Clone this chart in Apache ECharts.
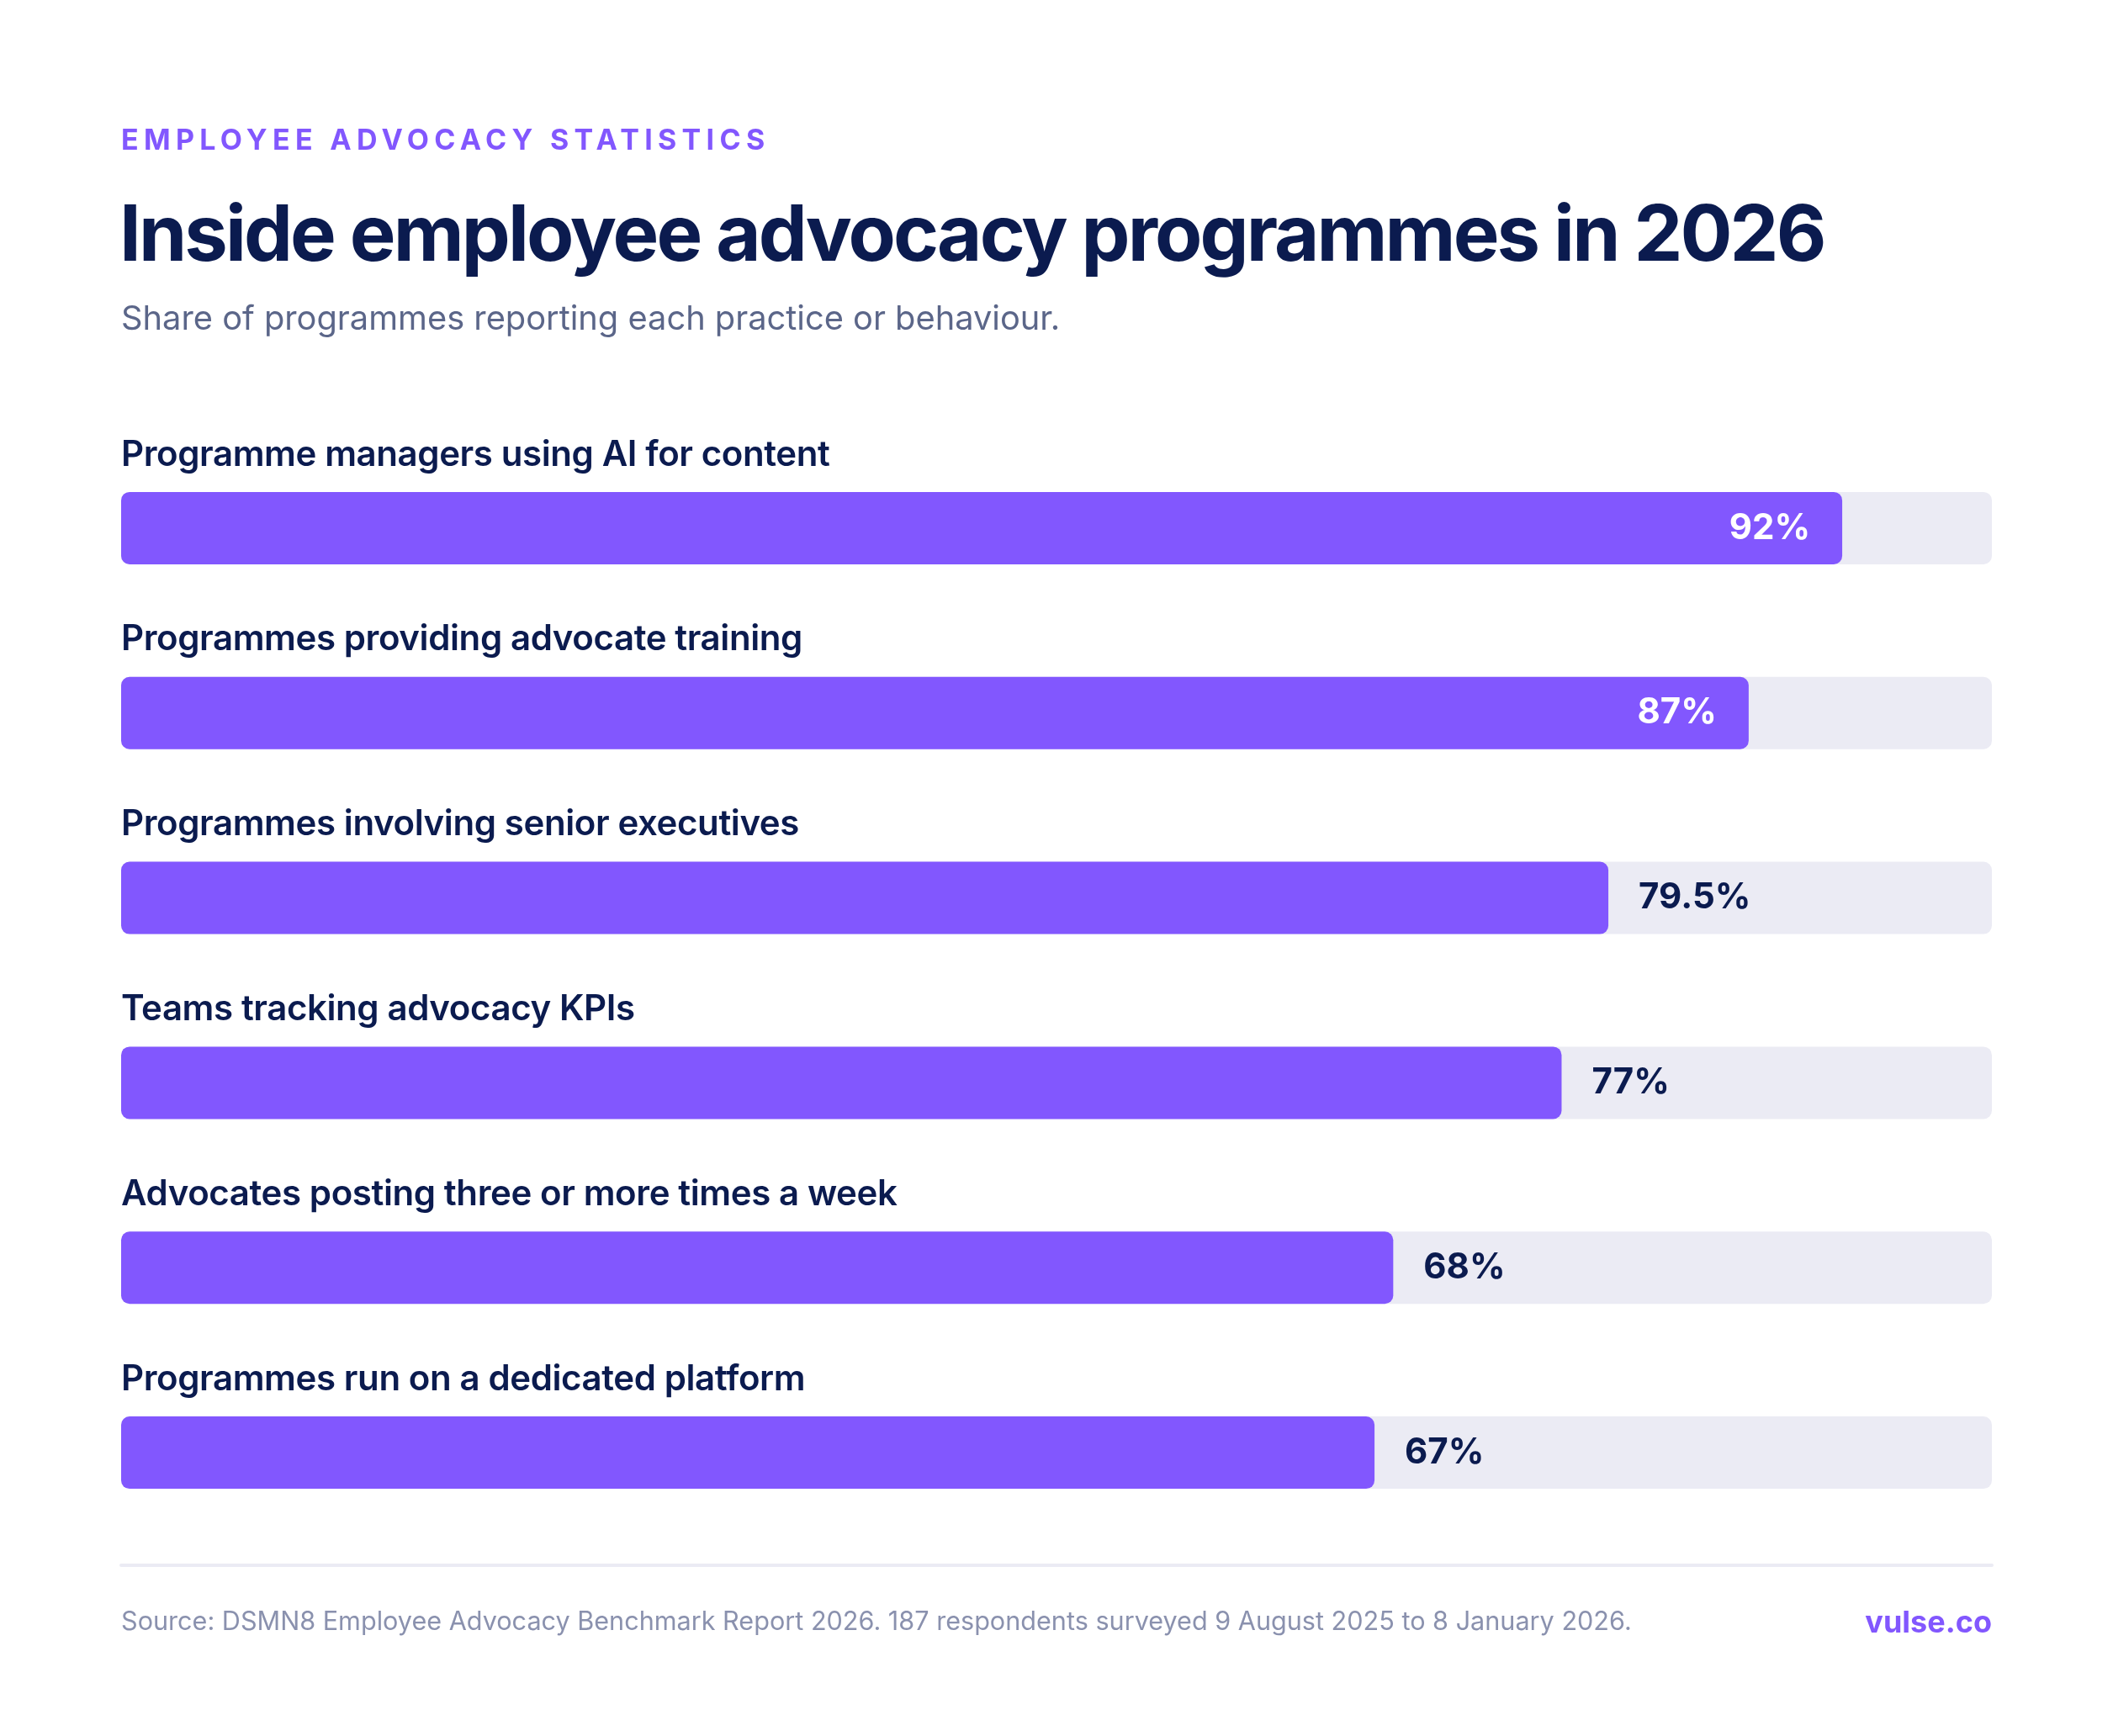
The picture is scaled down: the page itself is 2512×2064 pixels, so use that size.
<!DOCTYPE html>
<html>
<head>
<meta charset="utf-8">
<script src="https://cdn.jsdelivr.net/npm/echarts@6/dist/echarts.min.js"></script>
<style>
html,body{margin:0;padding:0;background:#ffffff;}
#chart{width:2512px;height:2064px;}
</style>
</head>
<body>
<div id="chart"></div>
<script>
const categories = [
  "Programme managers using AI for content",
  "Programmes providing advocate training",
  "Programmes involving senior executives",
  "Teams tracking advocacy KPIs",
  "Advocates posting three or more times a week",
  "Programmes run on a dedicated platform"
];
const values = [92, 87, 79.5, 77, 68, 67];
const axisMax = 100;

const PURPLE = '#8257FE';
const TRACK = '#EBEBF4';
const NAVY = '#0B1B4F';
const FONT = 'Inter, "Noto Sans", sans-serif';

// Letter spacing (tracking) per text size, applied at draw time (canvas supports letterSpacing).
const TRACKING = [
  {re: /(^|\s)34px/, spacing: '6.3px'},
  {re: /(^|\s)92px/, spacing: '-2.9px'},
  {re: /600 42px/, spacing: '-0.4px'}
];
(function () {
  const proto = CanvasRenderingContext2D.prototype;
  const origFill = proto.fillText;
  proto.fillText = function (t, x, y, w) {
    const f = this.font || '';
    let ls = '0px';
    for (const r of TRACKING) { if (r.re.test(f)) { ls = r.spacing; break; } }
    const has = ('letterSpacing' in this);
    const prev = has ? this.letterSpacing : null;
    if (has) this.letterSpacing = ls;
    const res = w === undefined ? origFill.call(this, t, x, y) : origFill.call(this, t, x, y, w);
    if (has) this.letterSpacing = prev || '0px';
    return res;
  };
})();

const chart = echarts.init(document.getElementById('chart'), null, {renderer: 'canvas'});

const seriesData = values.map(v => {
  const inside = v >= 85;
  return {
    value: v,
    label: inside
      ? {position: 'insideRight', distance: 38, color: '#ffffff'}
      : {position: 'right', distance: 36, color: NAVY}
  };
});

chart.setOption({
  backgroundColor: '#ffffff',
  animation: false,
  title: [
    {text: 'EMPLOYEE ADVOCACY STATISTICS', left: 144, top: 148, padding: 0,
     textStyle: {color: PURPLE, fontFamily: FONT, fontSize: 34, fontWeight: 700, lineHeight: 40}},
    {text: 'Inside employee advocacy programmes in 2026', left: 142, top: 227, padding: 0,
     textStyle: {color: NAVY, fontFamily: FONT, fontSize: 92, fontWeight: 700, lineHeight: 110}},
    {text: 'Share of programmes reporting each practice or behaviour.', left: 144, top: 357, padding: 0,
     textStyle: {color: '#5B6689', fontFamily: FONT, fontSize: 39.8, fontWeight: 400, lineHeight: 46}},
    {text: 'Source: DSMN8 Employee Advocacy Benchmark Report 2026. 187 respondents surveyed 9 August 2025 to 8 January 2026.', left: 144, top: 1910, padding: 0,
     textStyle: {color: '#8A91AE', fontFamily: FONT, fontSize: 30.6, fontWeight: 400, lineHeight: 38}},
    {text: 'vulse.co', right: 144, top: 1909, padding: 0,
     textStyle: {color: PURPLE, fontFamily: FONT, fontSize: 36, fontWeight: 700, lineHeight: 42}}
  ],
  grid: {left: 144, right: 144, top: 518, bottom: 227, containLabel: false},
  xAxis: {
    type: 'value', min: 0, max: axisMax,
    axisLine: {show: true, onZero: false, lineStyle: {color: TRACK, width: 4}},
    offset: 24,
    axisTick: {show: false}, axisLabel: {show: false}, splitLine: {show: false}
  },
  yAxis: {
    type: 'category', data: categories, inverse: true,
    axisLine: {show: false}, axisTick: {show: false}, splitLine: {show: false},
    axisLabel: {
      show: true, inside: true, interval: 0, margin: 0, align: 'left',
      verticalAlign: 'bottom', lineHeight: 46, padding: [0, 0, 64, 0],
      color: NAVY, fontFamily: FONT, fontSize: 42, fontWeight: 600
    }
  },
  series: [{
    type: 'bar',
    data: seriesData,
    barWidth: 86,
    showBackground: true,
    backgroundStyle: {color: TRACK, borderRadius: 10},
    itemStyle: {color: PURPLE, borderRadius: 10},
    label: {
      show: true,
      formatter: p => p.value + '%',
      fontFamily: FONT, fontSize: 42, fontWeight: 700
    }
  }]
});
</script>
</body>
</html>
